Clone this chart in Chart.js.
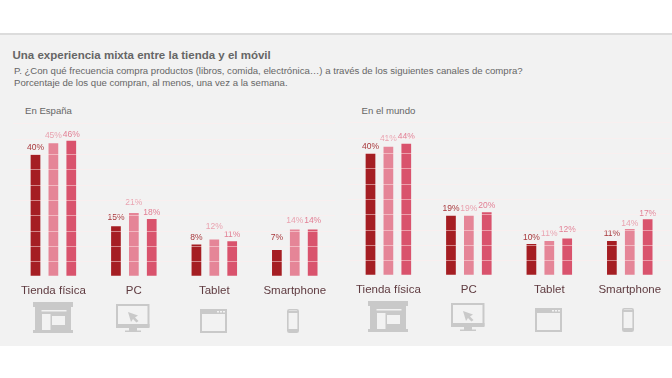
<!DOCTYPE html>
<html>
<head>
<meta charset="utf-8">
<title>Una experiencia mixta entre la tienda y el móvil</title>
<script src="https://cdn.jsdelivr.net/npm/chart.js"></script>
<style>
html, body { margin: 0; padding: 0; background: #fff; }
#page { position: relative; width: 672px; height: 378px; overflow: hidden; font-family: "Liberation Sans", Arial, sans-serif; }
#panel { position: absolute; left: 0; top: 33px; width: 672px; height: 313px; background: #f2f2f2; border-top: 2px solid #dcdcdc; box-sizing: border-box; }
.txt { position: absolute; white-space: nowrap; color: #666; }
.title { left: 12.5px; top: 48px; font-size: 11.5px; font-weight: bold; line-height: 15px; }
.sub { left: 14px; font-size: 9.6px; line-height: 12px; }
.region { font-size: 9.6px; line-height: 12px; top: 105px; }
canvas { position: absolute; }
svg.icon { position: absolute; }
</style>
</head>
<body>
<div id="page">
  <div id="panel"></div>
  <div class="txt title">Una experiencia mixta entre la tienda y el móvil</div>
  <div class="txt sub" style="top:65px">P. ¿Con qué frecuencia compra productos (libros, comida, electrónica…) a través de los siguientes canales de compra?</div>
  <div class="txt sub" style="top:77px">Porcentaje de los que compran, al menos, una vez a la semana.</div>
  <div class="txt region" style="left:25px">En España</div>
  <div class="txt region" style="left:361.5px">En el mundo</div>
</div>

<script>
// Canales de compra
const categories = ["Tienda física", "PC", "Tablet", "Smartphone"];

// Porcentajes impresos encima de cada barra
const espanaLabels1 = ["40%", "15%", "8%", "7%"];
const espanaLabels2 = ["45%", "21%", "12%", "14%"];
const espanaLabels3 = ["46%", "18%", "11%", "14%"];
const mundoLabels1 = ["40%", "19%", "10%", "11%"];
const mundoLabels2 = ["41%", "19%", "11%", "14%"];
const mundoLabels3 = ["44%", "20%", "12%", "17%"];

// Altura de las barras (no es del todo proporcional a las etiquetas)
const espanaBars1 = [39.9, 16.6, 10.6, 8.8];
const espanaBars2 = [43.7, 20.9, 12.2, 15.5];
const espanaBars3 = [44.5, 18.9, 11.7, 15.5];
const mundoBars1 = [40.0, 19.7, 10.4, 11.4];
const mundoBars2 = [42.2, 19.7, 11.4, 15.3];
const mundoBars3 = [43.2, 20.8, 12.2, 18.5];

const barColors = ["#a51e23", "#e58597", "#d9536d"];
const labelColors = ["#a8383c", "#e9a3b0", "#e27f94"];

// Separación entre barra y etiqueta, en px (en el original no es constante)
const espanaGaps = [[7, 8, 6.5, 12], [7.3, 10, 12.5, 8.5], [6.4, 6.5, 6, 8.5]];
const mundoGaps = [[6.7, 7.4, 6.7, 7], [7.7, 7.4, 7.3, 5.3], [7, 6.2, 8.5, 5.3]];

// Etiquetas encima de cada barra
const barLabels = {
  id: 'barLabels',
  afterDatasetsDraw(chart) {
    const ctx = chart.ctx;
    ctx.save();
    ctx.font = '8.5px "Liberation Sans", Arial, sans-serif';
    ctx.textAlign = 'center';
    ctx.textBaseline = 'middle';
    chart.data.datasets.forEach((ds, i) => {
      ctx.fillStyle = labelColors[i];
      chart.getDatasetMeta(i).data.forEach((bar, j) => {
        ctx.fillText(ds.printed[j], bar.x, bar.y - ds.gaps[j]);
      });
    });
    ctx.restore();
  }
};

function createBarChart(left, top, bars, labels, gaps) {
  const canvas = document.createElement('canvas');
  canvas.style.left = left + 'px';
  canvas.style.top = top + 'px';
  canvas.width = 322;
  canvas.height = 180;
  canvas.style.width = '322px';
  canvas.style.height = '180px';
  document.getElementById('page').appendChild(canvas);

  new Chart(canvas, {
    type: 'bar',
    data: {
      labels: categories,
      datasets: bars.map((values, i) => ({
        data: values,
        printed: labels[i],
        gaps: gaps[i],
        backgroundColor: barColors[i],
        categoryPercentage: 0.667,
        barPercentage: 0.543
      }))
    },
    options: {
      responsive: false,
      animation: false,
      layout: { padding: 0 },
      plugins: { legend: { display: false }, tooltip: { enabled: false } },
      scales: {
        x: {
          afterFit(scale) { scale.height = 24.3; },
          grid: { display: false, drawTicks: false },
          border: { display: false },
          ticks: {
            color: '#5f3b40',
            padding: 8,
            maxRotation: 0,
            autoSkip: false,
            font: { family: '"Liberation Sans", Arial, sans-serif', size: 11.5 }
          }
        },
        y: {
          min: 0.4,
          max: 51.3,
          afterFit(scale) { scale.width = 0; },
          afterBuildTicks(scale) {
            scale.ticks = [5, 10, 15, 20, 25, 30, 35, 40, 45, 50].map(v => ({ value: v }));
          },
          ticks: { display: false },
          border: { display: false },
          grid: { z: 1, drawTicks: false, color: 'rgba(255,235,235,0.5)', lineWidth: 1 }
        }
      }
    },
    plugins: [barLabels]
  });
}

createBarChart(12.5, 120, [espanaBars1, espanaBars2, espanaBars3], [espanaLabels1, espanaLabels2, espanaLabels3], espanaGaps);
createBarChart(347.5, 119, [mundoBars1, mundoBars2, mundoBars3], [mundoLabels1, mundoLabels2, mundoLabels3], mundoGaps);

// Iconos de los canales
const gray = '#c9c9c9';
const bg = '#f2f2f2';
const shopIcon = `<rect x="0" y="0" width="40" height="5" fill="${gray}"/><rect x="2" y="5" width="36" height="25" fill="${gray}"/><rect x="0" y="28" width="40" height="3" fill="${gray}"/><rect x="8.5" y="8" width="25" height="1.5" fill="${bg}"/><rect x="9" y="12" width="8.5" height="16" fill="${bg}"/><rect x="19" y="14" width="13" height="9" fill="${bg}"/>`;
const pcIcon = `<rect x="1" y="1" width="31.5" height="21" fill="${bg}" stroke="${gray}" stroke-width="2"/><rect x="0" y="20" width="33.5" height="4" fill="${gray}"/><rect x="13" y="24" width="8" height="3" fill="${gray}"/><rect x="9" y="26.5" width="16" height="1.5" fill="${gray}"/><path d="M12 8 L22 11.5 L19 13.5 L22.5 17 L20.5 18.5 L17 15 L15 18 Z" fill="${gray}"/>`;
const tabletIcon = `<rect x="1" y="1" width="25" height="22" fill="none" stroke="${gray}" stroke-width="2"/><rect x="0" y="0" width="27" height="5" fill="${gray}"/><rect x="17" y="2" width="2" height="1.5" fill="${bg}"/><rect x="20" y="2" width="2" height="1.5" fill="${bg}"/><rect x="23" y="2" width="2" height="1.5" fill="${bg}"/>`;
const phoneIcon = `<rect x="0.8" y="0.8" width="10.4" height="22.4" rx="1.5" fill="none" stroke="${gray}" stroke-width="1.6"/><rect x="1" y="2" width="10" height="2" fill="${gray}"/><rect x="1" y="20" width="10" height="3" fill="${gray}"/>`;

function addIcon(body, x, y, w, h) {
  const svg = document.createElementNS('http://www.w3.org/2000/svg', 'svg');
  svg.setAttribute('class', 'icon');
  svg.setAttribute('width', w);
  svg.setAttribute('height', h);
  svg.setAttribute('viewBox', `0 0 ${w} ${h}`);
  svg.style.left = x + 'px';
  svg.style.top = y + 'px';
  svg.innerHTML = body;
  document.getElementById('page').appendChild(svg);
}
[[0, 0], [335, -0.7]].forEach(([dx, dy]) => {
  addIcon(shopIcon, 33 + dx, 302 + dy, 40, 32);
  addIcon(pcIcon, 116 + dx, 304 + dy, 34, 29);
  addIcon(tabletIcon, 199.5 + dx, 309 + dy, 27, 24);
  addIcon(phoneIcon, 287 + dx, 309 + dy, 12, 24);
});
</script>
</body>
</html>
